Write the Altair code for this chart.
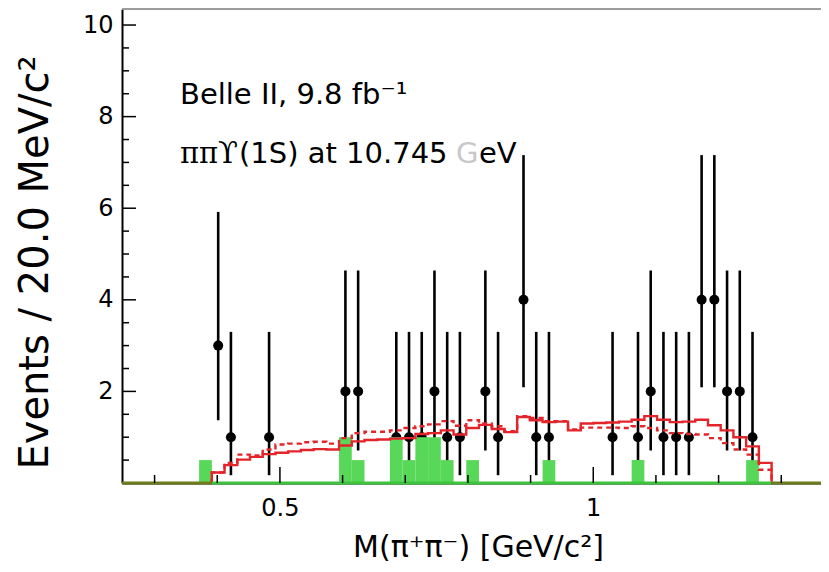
import altair as alt
import pandas as pd

# 20 MeV bins, centres (GeV/c^2); the first bin only holds sideband
bin_centers = [0.3812, 0.4015, 0.4218, 0.4421, 0.4624, 0.4827, 0.5030, 0.5233,
               0.5436, 0.5639, 0.5842, 0.6045, 0.6248, 0.6451, 0.6654, 0.6857,
               0.7060, 0.7263, 0.7466, 0.7669, 0.7872, 0.8075, 0.8278, 0.8481,
               0.8684, 0.8887, 0.9090, 0.9293, 0.9496, 0.9699, 0.9902, 1.0105,
               1.0308, 1.0511, 1.0714, 1.0917, 1.1120, 1.1323, 1.1526, 1.1729,
               1.1932, 1.2135, 1.2338, 1.2541, 1.2744]
half_bin = 0.01015

# observed events per bin
events = [0, 3, 1, 0, 0, 1, 0, 0,
          0, 0, 0, 2, 2, 0, 0, 1,
          1, 1, 2, 1, 1, 0, 2, 1,
          0, 4, 1, 1, 0, 0, 0, 0,
          1, 0, 1, 2, 1, 1, 1, 4,
          4, 2, 2, 1, 0]
# poisson error bars as drawn
err_low = {1: 0.17, 2: 0.71, 3: 1.37, 4: 2.09}
err_high = {1: 3.30, 2: 4.64, 3: 5.92, 4: 7.16}

# scaled sideband (green)
sideband = [0.5, 0, 0, 0, 0, 0, 0, 0,
            0, 0, 0, 1.0, 0.5, 0, 0, 1.0,
            0.5, 1.0, 1.0, 0.5, 0, 0.5, 0, 0,
            0, 0, 0, 0.5, 0, 0, 0, 0,
            0, 0, 0.5, 0, 0, 0, 0, 0,
            0, 0, 0, 0.5, 0]

# fit histograms, bins 2..45 of the list above
fit_solid = [0.23, 0.39, 0.51, 0.57, 0.63, 0.66, 0.69, 0.72, 0.74, 0.73,
             0.82, 0.91, 0.94, 0.95, 0.97, 0.98, 1.07, 1.09, 1.15, 1.06,
             1.20, 1.27, 1.18, 1.11, 1.44, 1.37, 1.33, 1.34, 1.15, 1.30,
             1.31, 1.32, 1.34, 1.38, 1.46, 1.38, 1.33, 1.34, 1.38, 1.26,
             1.15, 1.00, 0.80, 0.44]
fit_dashed = [0.23, 0.44, 0.62, 0.60, 0.73, 0.84, 0.86, 0.89, 0.90, 0.86,
              0.98, 1.09, 1.12, 1.12, 1.15, 1.20, 1.24, 1.28, 1.35, 1.25,
              1.37, 1.30, 1.24, 1.13, 1.46, 1.42, 1.35, 1.35, 1.17, 1.21,
              1.21, 1.21, 1.20, 1.24, 1.20, 1.15, 1.09, 1.07, 1.06, 0.98,
              0.87, 0.73, 0.62, 0.29]

x_major = [0.5, 1.0]
x_minor = [0.3, 0.4, 0.6, 0.7, 0.8, 0.9, 1.1, 1.2, 1.3]
y_major = [2, 4, 6, 8, 10]
y_minor = [0.5, 1, 1.5, 2.5, 3, 3.5, 4.5, 5, 5.5, 6.5, 7, 7.5, 8.5, 9, 9.5]

W, H = 699, 474
FONT = "DejaVu Sans"
x_dom = [0.248, 1.3634]
y_dom = [0, 10.35]

xs = alt.Scale(domain=x_dom, nice=False, zero=False)
ys = alt.Scale(domain=y_dom, nice=False, zero=False)

x_axis = alt.Axis(values=x_major, format="~g", ticks=False, tickSize=0, grid=False,
                  domainColor="black", domainWidth=2, labelFont=FONT, labelFontSize=24,
                  labelColor="black", labelPadding=13, labelFlush=False,
                  title="M(π⁺π⁻) [GeV/c²]", titleFont=FONT, titleFontSize=30,
                  titleFontWeight="normal", titleColor="black",
                  titleX=356, titleY=73, titleAlign="center", titleBaseline="alphabetic")
y_axis = alt.Axis(values=y_major, ticks=False, tickSize=0, grid=False,
                  domainColor="black", domainWidth=2, labelFont=FONT, labelFontSize=24,
                  labelColor="black", labelPadding=9,
                  title="Events / 20.0 MeV/c²", titleFont=FONT, titleFontSize=40,
                  titleFontWeight="normal", titleColor="black", titleAngle=270,
                  titleX=-87, titleY=253, titleAlign="center", titleBaseline="middle")


def X(field):
    return alt.X(field, type="quantitative", scale=xs, axis=x_axis)


def Y(field):
    return alt.Y(field, type="quantitative", scale=ys, axis=y_axis)


bins = pd.DataFrame({"x": bin_centers, "n": events, "sb": sideband})
bins["lo"] = bins["x"] - half_bin
bins["hi"] = bins["x"] + half_bin
bins["zero"] = 0.0

pts = bins[bins["n"] > 0].copy()
pts["elo"] = pts["n"].map(err_low)
pts["ehi"] = pts["n"].map(err_high)

sb = bins[bins["sb"] > 0]

fit_bins = bins.iloc[1:].reset_index(drop=True)


def step_table(vals):
    # histogram outline: up at first edge, one level per bin, down at last edge
    rows = [{"x": fit_bins["lo"][0], "y": 0.0}]
    for i, v in enumerate(vals):
        rows.append({"x": fit_bins["lo"][i], "y": v})
    rows.append({"x": fit_bins["hi"].iloc[-1], "y": vals[-1]})
    rows.append({"x": fit_bins["hi"].iloc[-1], "y": 0.0})
    df = pd.DataFrame(rows)
    df["i"] = range(len(df))
    return df


solid_df = step_table(fit_solid)
dashed_df = step_table(fit_dashed)

bottom = pd.DataFrame({
    "a": [x_dom[0], fit_bins["lo"][0], fit_bins["hi"].iloc[-1]],
    "b": [fit_bins["lo"][0], fit_bins["hi"].iloc[-1], x_dom[1]],
    "c": ["olive", "green", "olive"],
    "zero": [0.0, 0.0, 0.0],
})

errbars = alt.Chart(pts).mark_rule(color="black", strokeWidth=2.6).encode(
    x=X("x"), y=Y("elo"), y2="ehi")
dots = alt.Chart(pts).mark_circle(color="black", size=100, opacity=1).encode(
    x=X("x"), y=Y("n"))
green = alt.Chart(sb).mark_rect(color="#58d858").encode(
    x=X("lo"), x2="hi", y=Y("zero"), y2="sb")
solid = alt.Chart(solid_df).mark_line(
    interpolate="step-after", color="#e3242b", strokeWidth=2.4).encode(
    x=X("x"), y=Y("y"), order="i:Q")
dashed = alt.Chart(dashed_df).mark_line(
    interpolate="step-after", color="#e3242b", strokeWidth=2.4, strokeDash=[5, 4]).encode(
    x=X("x"), y=Y("y"), order="i:Q")
base_line = alt.Chart(bottom).mark_rule(strokeWidth=3).encode(
    x=X("a"), x2="b", y=Y("zero"),
    color=alt.Color("c:N", scale=alt.Scale(domain=["olive", "green"],
                                           range=["#6e7c1c", "#3cc43c"]), legend=None))

xt_major = alt.Chart(pd.DataFrame({"t": x_major})).mark_rule(
    color="black", strokeWidth=1.5).encode(x=X("t"), y=alt.value(H), y2=alt.value(H - 16))
xt_minor = alt.Chart(pd.DataFrame({"t": x_minor})).mark_rule(
    color="black", strokeWidth=1.5).encode(x=X("t"), y=alt.value(H), y2=alt.value(H - 8))
yt_major = alt.Chart(pd.DataFrame({"t": y_major})).mark_rule(
    color="black", strokeWidth=1.5).encode(y=Y("t"), x=alt.value(0), x2=alt.value(14))
yt_minor = alt.Chart(pd.DataFrame({"t": y_minor})).mark_rule(
    color="black", strokeWidth=1.5).encode(y=Y("t"), x=alt.value(0), x2=alt.value(7))

top_edge = alt.Chart(pd.DataFrame({"a": [0]})).mark_rule(
    color="#9c9c9c", strokeWidth=2).encode(x=alt.value(0), x2=alt.value(W), y=alt.value(0))

one = pd.DataFrame({"a": [0]})


def label(txt, px, py, size=29, color="black", font=FONT):
    return alt.Chart(one).mark_text(
        text=txt, align="left", baseline="alphabetic", font=font,
        fontSize=size, color=color).encode(x=alt.value(px - 122), y=alt.value(py - 9))


texts = [
    label("Belle II, 9.8 fb⁻¹", 180, 104),
    label("ππϒ", 180, 163, font="DejaVu Serif"),
    label("(1S) at 10.745", 239, 163),
    label("G", 456, 163, color="#c8c8c8"),
    label("eV", 479, 163),
]

chart = alt.layer(
    errbars, dots, green, solid, dashed, base_line,
    xt_major, xt_minor, yt_major, yt_minor, top_edge, *texts
).properties(
    width=W, height=H,
    padding={"left": 114, "top": 1, "right": 0, "bottom": 81},
    autosize=alt.AutoSizeParams(type="none"),
).configure_view(stroke=None).configure(background="white")

chart.save("out.html", embed_options={"renderer": "svg", "actions": False})
